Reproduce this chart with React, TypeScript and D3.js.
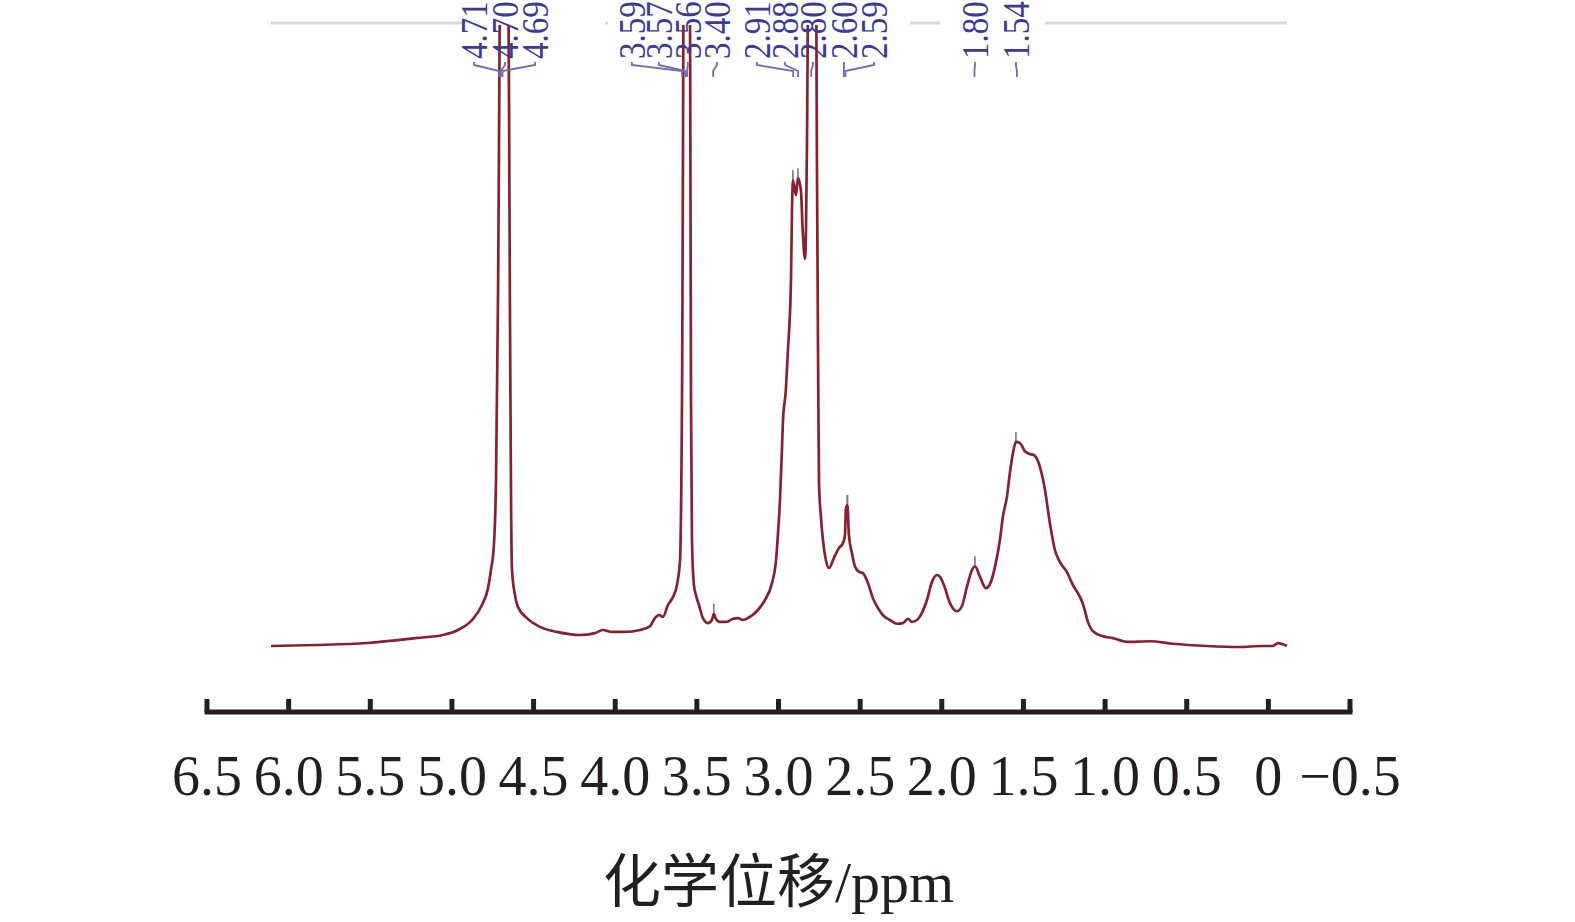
import * as d3 from 'd3'

const WIDTH = 1575
const HEIGHT = 922

// trace: chemical shift (ppm) and relative intensity
// (100 = top of the frame, the three big singlets run past it and get clipped)
const shift = [
  6.108, 5.826, 5.52, 5.214, 5.055, 4.951, 4.871, 4.816, 4.779, 4.761, 4.743, 4.73,
  4.718, 4.697, 4.678, 4.66, 4.645, 4.638, 4.632, 4.614, 4.596, 4.54, 4.461, 4.357,
  4.216, 4.124, 4.075, 4.02, 3.94, 3.848, 3.787, 3.757, 3.732, 3.708, 3.677, 3.646,
  3.622, 3.603, 3.591, 3.576, 3.561, 3.545, 3.536, 3.53, 3.518, 3.506, 3.487, 3.463,
  3.432, 3.408, 3.396, 3.384, 3.359, 3.316, 3.279, 3.248, 3.218, 3.175, 3.126, 3.083,
  3.04, 3.015, 3.003, 2.991, 2.979, 2.973, 2.955, 2.942, 2.924, 2.918, 2.912, 2.893,
  2.881, 2.863, 2.851, 2.838, 2.832, 2.826, 2.811, 2.792, 2.774, 2.765, 2.758, 2.752,
  2.74, 2.728, 2.71, 2.691, 2.661, 2.63, 2.605, 2.593, 2.587, 2.578, 2.569, 2.55,
  2.532, 2.507, 2.483, 2.452, 2.422, 2.391, 2.354, 2.318, 2.275, 2.238, 2.207, 2.183,
  2.152, 2.122, 2.091, 2.06, 2.03, 2.011, 1.987, 1.95, 1.907, 1.877, 1.846, 1.815,
  1.797, 1.766, 1.73, 1.699, 1.668, 1.644, 1.626, 1.601, 1.583, 1.564, 1.546, 1.521,
  1.491, 1.466, 1.436, 1.399, 1.368, 1.338, 1.307, 1.277, 1.234, 1.197, 1.166, 1.154,
  1.136, 1.105, 1.074, 1.013, 0.952, 0.866, 0.725, 0.585, 0.376, 0.174, 0.04, -0.028,
  -0.058, -0.114,
]
const intensity = [
  0.64, 0.8, 1.12, 1.92, 2.4, 3.36, 4.96, 7.2, 9.9, 12.8, 16.8, 27.2,
  56, 130, 120, 130, 56, 24, 12.8, 8.8, 6.9, 5.1, 3.7, 2.9,
  2.4, 2.7, 3.2, 2.9, 2.9, 3.2, 3.8, 5.1, 5.6, 5.3, 7.2, 8.5,
  10.4, 14.4, 40, 130, 120, 130, 40, 17.6, 10.4, 8.8, 7.2, 5.1,
  4.3, 4.8, 5.8, 5.0, 4.5, 4.5, 5.0, 5.1, 4.8, 5.3, 6.4, 8,
  10.7, 14.4, 18.7, 24, 32, 36.5, 41.6, 48, 58.7, 69.3, 75.2, 72.8,
  75.5, 73.6, 66.7, 62.6, 66.7, 80, 130, 120, 130, 80, 48, 26.7,
  21.3, 17.6, 14.4, 13.1, 14.7, 16.3, 17.1, 18.4, 22.7, 23.2, 18.4, 15.5,
  13.4, 12.5, 12.3, 10.7, 8.3, 6.7, 5.4, 4.8, 4.2, 4.3, 5.0, 4.5,
  4.8, 5.9, 8, 10.9, 12, 11.7, 10.4, 7.5, 6.2, 7.0, 10.1, 12.8,
  13.4, 11.7, 9.9, 10.9, 14.1, 17.6, 21.3, 24.5, 28.3, 31.5, 33.3, 33.1,
  31.8, 31.4, 31.2, 29.3, 25.6, 20.3, 16, 14.1, 12.5, 10.4, 9.1, 8.5,
  7.4, 4.5, 3.0, 2.2, 1.9, 1.3, 1.4, 1.0, 0.64, 0.48, 0.64, 0.64,
  1.1, 0.64,
]

const tickValues = [6.5, 6, 5.5, 5, 4.5, 4, 3.5, 3, 2.5, 2, 1.5, 1, 0.5, 0, -0.5]
const tickLabels = ['6.5', '6.0', '5.5', '5.0', '4.5', '4.0', '3.5', '3.0', '2.5', '2.0', '1.5', '1.0', '0.5', '0', '\u22120.5']

// picked peaks and where their labels were spread to (ppm)
const peakLabels = ['4.71', '4.70', '4.69', '3.59', '3.57', '3.56', '3.40', '2.91', '2.88', '2.80', '2.60', '2.59', '1.80', '1.54']
const peakShift = [4.71, 4.7, 4.69, 3.59, 3.57, 3.56, 3.4, 2.91, 2.88, 2.8, 2.6, 2.59, 1.8, 1.54]
const labelShift = [4.865, 4.675, 4.491, 3.898, 3.733, 3.555, 3.377, 3.132, 2.96, 2.789, 2.599, 2.415, 1.797, 1.546]

// pieces of the grey top rule that are not hidden behind the labels
const topRuleRuns = [[6.108, 4.92], [4.062, 4.045], [2.195, 2.011], [1.368, -0.114]]

const axisTitle = '化学位移/ppm'

const INK = '#231f20'
const TRACE = '#85222f'
const LABEL = '#3a3a98'
const CONNECT = '#6c6cb2'
const SERIF = '"Liberation Serif", "Times New Roman", "Noto Sans CJK SC", serif'

const App = () => {
  const x = d3.scaleLinear().domain([6.5, -0.5]).range([207, 1350])
  const y = d3.scaleLinear().domain([0, 100]).range([650, 25])

  const points: [number, number][] = shift.map((s, i) => [s, intensity[i]])
  const line = d3
    .line<[number, number]>()
    .x(d => x(d[0]))
    .y(d => y(d[1]))
    .curve(d3.curveMonotoneX)

  // little blue marks on top of the peaks that are still inside the frame
  const markers = peakShift
    .map(p => d3.greatest(points.filter(d => Math.abs(d[0] - p) <= 0.025), d => d[1]))
    .filter((d): d is [number, number] => !!d && d[1] < 95)

  const axisY = 712

  return (
    <>
      <style>{'body{margin:0}'}</style>
      <svg width={WIDTH} height={HEIGHT} style={{ display: 'block', background: '#fff' }} fontFamily={SERIF}>
        <defs>
          <clipPath id="frame">
            <rect x={0} y={y(100)} width={WIDTH} height={axisY - y(100)} />
          </clipPath>
        </defs>

        {topRuleRuns.map((r, i) => (
          <line key={i} x1={x(r[0])} x2={x(r[1])} y1={23} y2={23} stroke="#d9d9d9" strokeWidth={3} />
        ))}

        {markers.map((d, i) => (
          <line key={i} x1={x(d[0])} x2={x(d[0])} y1={y(d[1]) - 10} y2={y(d[1]) - 1} stroke="#6f6fc4" strokeWidth={1.6} />
        ))}

        <path d={line(points) ?? ''} fill="none" stroke={TRACE} strokeWidth={2.7} strokeLinejoin="round" clipPath="url(#frame)" />

        {peakLabels.map((t, i) => {
          const lx = x(labelShift[i])
          const px = x(peakShift[i])
          return (
            <g key={t + i}>
              <path d={`M${lx},62 V65 L${px},71 V77`} fill="none" stroke={CONNECT} strokeWidth={1.8} />
              <text
                transform={`translate(${lx},59) rotate(-90) scale(1,1.15)`}
                fontSize={33}
                fill={LABEL}
                dominantBaseline="central"
              >
                {t}
              </text>
            </g>
          )
        })}

        {/* x axis */}
        <line x1={x(6.5) - 2.5} x2={x(-0.5) + 2.5} y1={axisY} y2={axisY} stroke={INK} strokeWidth={5} />
        {tickValues.map((v, i) => (
          <g key={v}>
            <line x1={x(v)} x2={x(v)} y1={axisY} y2={699} stroke={INK} strokeWidth={5} />
            <text x={x(v)} y={795} textAnchor="middle" fontSize={56} fill={INK}>
              {tickLabels[i]}
            </text>
          </g>
        ))}
        <text x={(x(6.5) + x(-0.5)) / 2} y={902} textAnchor="middle" fontSize={58} fill={INK}>
          {axisTitle}
        </text>
      </svg>
    </>
  )
}

export default App
